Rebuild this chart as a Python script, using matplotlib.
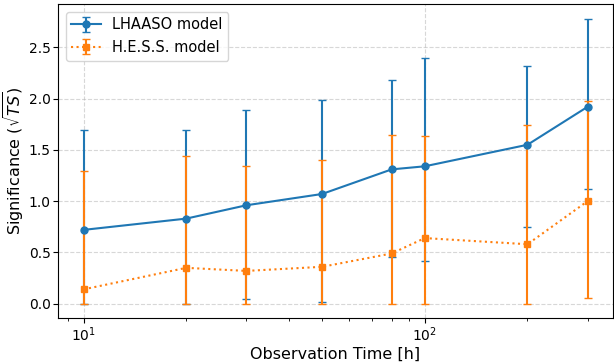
import matplotlib
matplotlib.use("Agg")
import matplotlib.pyplot as plt
import numpy as np

# observation times [h]
obs_time = [10, 20, 30, 50, 80, 100, 200, 300]

# LHAASO model: significance and error-bar bounds
lhaaso_sig = [0.72, 0.83, 0.96, 1.07, 1.31, 1.34, 1.55, 1.92]
lhaaso_low = [0.00, 0.00, 0.05, 0.02, 0.46, 0.42, 0.75, 1.12]
lhaaso_high = [1.69, 1.69, 1.89, 1.99, 2.18, 2.40, 2.32, 2.78]

# H.E.S.S. model
hess_sig = [0.14, 0.35, 0.32, 0.36, 0.49, 0.64, 0.58, 1.00]
hess_low = [0.00, 0.00, 0.00, 0.00, 0.00, 0.00, 0.00, 0.06]
hess_high = [1.29, 1.44, 1.34, 1.40, 1.65, 1.64, 1.74, 1.98]


def yerr(sig, low, high):
    sig = np.asarray(sig)
    return [sig - np.asarray(low), np.asarray(high) - sig]


fig, ax = plt.subplots(figsize=(6.14, 3.63), dpi=100)
fig.subplots_adjust(left=0.095, right=0.998, top=0.988, bottom=0.124)

ax.errorbar(obs_time, lhaaso_sig, yerr=yerr(lhaaso_sig, lhaaso_low, lhaaso_high),
            fmt="-o", color="C0", markersize=5, capsize=3, label="LHAASO model")
ax.errorbar(obs_time, hess_sig, yerr=yerr(hess_sig, hess_low, hess_high),
            fmt=":s", color="C1", markersize=5, capsize=3, label="H.E.S.S. model")

ax.set_xscale("log")
ax.set_xlabel("Observation Time [h]", fontsize=11.5, labelpad=2)
ax.set_ylabel(r"Significance ($\sqrt{TS}$)", fontsize=11.5, labelpad=2)
ax.tick_params(labelsize=10, pad=2)
ax.grid(True, linestyle="--", alpha=0.5)
ax.legend(loc="upper left", fontsize=10.5)

fig.savefig("out.png", dpi=100)
